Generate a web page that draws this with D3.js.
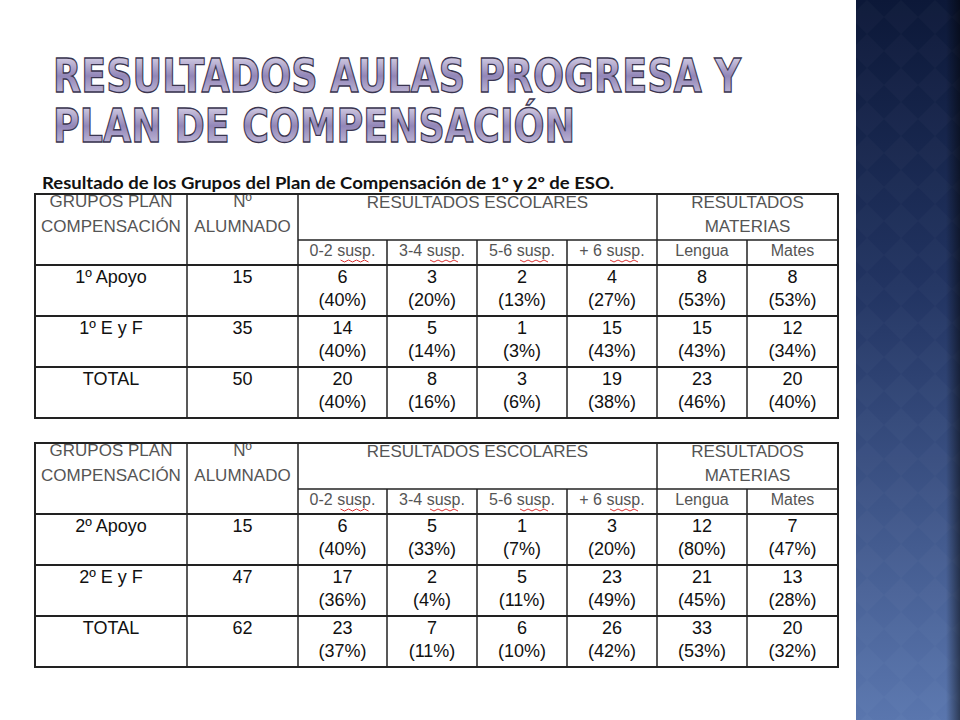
<!DOCTYPE html>
<html><head><meta charset="utf-8">
<script src="https://cdn.jsdelivr.net/npm/d3@7"></script>
<style>body{margin:0;background:#fff}svg{display:block}</style>
</head><body><svg id="c" width="960" height="720"></svg>
<script>
const titleLines = ["RESULTADOS AULAS PROGRESA Y", "PLAN DE COMPENSACIÓN"];
const caption = "Resultado de los Grupos del Plan de Compensación  de 1º y 2º de ESO.";
const subCols = ["0-2 susp.", "3-4 susp.", "5-6 susp.", "+ 6 susp.", "Lengua", "Mates"];
const groups1 = ["1º Apoyo", "1º E y F", "TOTAL"];
const alumnos1 = [15, 35, 50];
const values1 = [[6, 3, 2, 4, 8, 8], [14, 5, 1, 15, 15, 12], [20, 8, 3, 19, 23, 20]];
const pct1 = [[40, 20, 13, 27, 53, 53], [40, 14, 3, 43, 43, 34], [40, 16, 6, 38, 46, 40]];
const groups2 = ["2º Apoyo", "2º E y F", "TOTAL"];
const alumnos2 = [15, 47, 62];
const values2 = [[6, 5, 1, 3, 12, 7], [17, 2, 5, 23, 21, 13], [23, 7, 6, 26, 33, 20]];
const pct2 = [[40, 33, 7, 20, 80, 47], [36, 4, 11, 49, 45, 28], [37, 11, 10, 42, 53, 32]];

const svg = d3.select("#c");
const defs = svg.append("defs");
const narrow = "'Liberation Sans Narrow', 'Liberation Sans', Arial";

// sidebar
const sg = defs.append("linearGradient").attr("id", "side").attr("x1", 0).attr("y1", 0).attr("x2", 0).attr("y2", 1);
sg.append("stop").attr("offset", 0).attr("stop-color", "#0c1838");
sg.append("stop").attr("offset", 0.4).attr("stop-color", "#223462");
sg.append("stop").attr("offset", 1).attr("stop-color", "#5a76ae");
const pat = defs.append("pattern").attr("id", "dia").attr("width", 34).attr("height", 34)
  .attr("patternUnits", "userSpaceOnUse");
pat.append("path").attr("d", "M17,0 L34,17 L17,34 L0,17Z").attr("fill", "#fff").attr("opacity", 0.018);
const sh = defs.append("linearGradient").attr("id", "shade");
sh.append("stop").attr("offset", 0).attr("stop-color", "#000").attr("stop-opacity", 0);
sh.append("stop").attr("offset", 1).attr("stop-color", "#000").attr("stop-opacity", 0.5);
svg.append("rect").attr("x", 856).attr("y", 0).attr("width", 104).attr("height", 720).attr("fill", "url(#side)");
svg.append("rect").attr("x", 856).attr("y", 0).attr("width", 104).attr("height", 720).attr("fill", "url(#dia)");
svg.append("rect").attr("x", 946).attr("y", 0).attr("width", 14).attr("height", 720).attr("fill", "url(#shade)");

// title
const tg = defs.append("linearGradient").attr("id", "tt").attr("x1", 0).attr("y1", 0).attr("x2", 0).attr("y2", 1);
tg.append("stop").attr("offset", 0).attr("stop-color", "#ece8f4");
tg.append("stop").attr("offset", 0.5).attr("stop-color", "#9286b8");
tg.append("stop").attr("offset", 1).attr("stop-color", "#d6d0e6");
svg.append("g").selectAll("text").data(titleLines).join("text")
  .attr("x", 53).attr("y", (d, i) => 92 + i * 50)
  .attr("font-family", "DejaVu Sans").attr("font-weight", "bold").attr("font-size", 46)
  .attr("textLength", (d, i) => i ? 522 : 688).attr("lengthAdjust", "spacingAndGlyphs")
  .attr("fill", "url(#tt)").attr("stroke", "#3a3550").attr("stroke-width", 1.3)
  .text(d => d);

svg.append("text").attr("x", 42).attr("y", 189).attr("font-family", "Lato, 'Liberation Sans'")
  .attr("font-weight", "bold").attr("font-size", 17).attr("fill", "#111")
  .attr("textLength", 572).attr("lengthAdjust", "spacingAndGlyphs").text(caption);

const colW = [152, 111, 89, 90, 90, 90, 90, 91];
const edges = [35, ...d3.cumsum(colW).map(v => 35 + v)];

function drawTable(top, groups, alumnos, values, pct) {
  const g = svg.append("g").attr("font-family", narrow).attr("font-size", 18)
    .attr("text-anchor", "middle");
  const headH = 71, subTop = top + 46;
  const y = d3.scaleBand().domain(d3.range(groups.length)).range([top + headH, top + headH + 153]);
  const bottom = y.range()[1];
  const line = (x1, y1, x2, y2, w) => g.append("line").attr("x1", x1).attr("y1", y1).attr("x2", x2).attr("y2", y2)
    .attr("stroke", "#222").attr("stroke-width", w || 1.5);
  g.append("rect").attr("x", edges[0]).attr("y", top).attr("width", edges[8] - edges[0]).attr("height", bottom - top)
    .attr("fill", "none").attr("stroke", "#222").attr("stroke-width", 2);
  [1, 2, 6].forEach(i => line(edges[i], top, edges[i], bottom));
  [3, 4, 5, 7].forEach(i => line(edges[i], subTop, edges[i], bottom));
  line(edges[2], subTop, edges[8], subTop);
  y.domain().forEach(i => line(edges[0], y(i), edges[8], y(i), 2));

  const head = g.append("g").attr("fill", "#555").attr("font-size", 17);
  const ht = (x, yy, t) => head.append("text").attr("x", x).attr("y", yy).text(t);
  const mid = i => (edges[i] + edges[i + 1]) / 2;
  ht(mid(0), top + 13, "GRUPOS PLAN"); ht(mid(0), top + 38, "COMPENSACIÓN");
  ht(mid(1), top + 13, "Nº"); ht(mid(1), top + 38, "ALUMNADO");
  ht((edges[2] + edges[6]) / 2, top + 14, "RESULTADOS ESCOLARES");
  ht((edges[6] + edges[8]) / 2, top + 14, "RESULTADOS");
  ht((edges[6] + edges[8]) / 2, top + 38, "MATERIAS");
  subCols.forEach((c, j) => {
    head.append("text").attr("x", mid(j + 2)).attr("y", subTop + 16).attr("font-size", 16).text(c);
    if (j < 4) head.append("path")
      .attr("d", d3.range(0, 32, 4).map((k, n) => (n ? "L" : "M") + (mid(j + 2) - 2 + k) + "," + (subTop + 20 + (n % 2 ? 2 : 0))).join(""))
      .attr("fill", "none").attr("stroke", "#d33").attr("stroke-width", 1);
  });

  const body = g.append("g").attr("fill", "#111");
  groups.forEach((gr, i) => {
    const y0 = y(i);
    body.append("text").attr("x", mid(0)).attr("y", y0 + 18).text(gr);
    body.append("text").attr("x", mid(1)).attr("y", y0 + 18).text(alumnos[i]);
    values[i].forEach((v, j) => {
      body.append("text").attr("x", mid(j + 2)).attr("y", y0 + 18).text(v);
      body.append("text").attr("x", mid(j + 2)).attr("y", y0 + 41).text("(" + pct[i][j] + "%)");
    });
  });
}
drawTable(194, groups1, alumnos1, values1, pct1);
drawTable(443, groups2, alumnos2, values2, pct2);
</script></body></html>
